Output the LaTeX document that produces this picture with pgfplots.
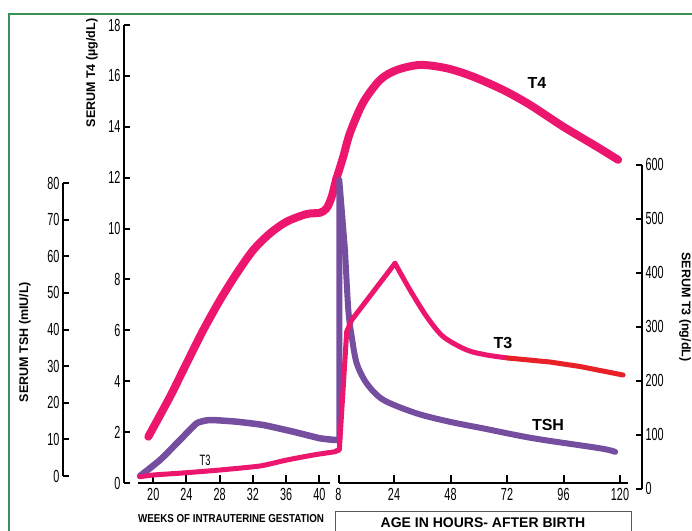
\documentclass[border=0pt]{standalone}
\usepackage{fontspec}
\setmainfont{Liberation Sans}
\newfontfamily\narrow[FakeStretch=0.62]{Liberation Sans}
\newfontfamily\narrowb[FakeStretch=0.85]{Liberation Sans}
\usepackage{pgfplots}
\pgfplotsset{compat=1.18}

\definecolor{pinkline}{RGB}{236,22,110}
\definecolor{purpleline}{RGB}{118,78,160}
\definecolor{redline}{RGB}{232,32,40}
\definecolor{framegreen}{RGB}{60,145,85}

% one px of the reference = 1pt
\pgfplotsset{
  every axis/.append style={scale only axis, anchor=south west},
  data/.style={hide axis, clip=false, height=458pt},
  pre/.style={data, at={(124pt,47pt)}, width=212pt, xmin=16.47, xmax=42.01},
  post/.style={data, at={(336pt,47pt)}, width=306pt, xmin=-0.64, xmax=129.35},
  rangeTfour/.style={ymin=0, ymax=18},
  rangeTthree/.style={ymin=10.19, ymax=858.97},
  rangeTSH/.style={ymin=-1.913, ymax=123.22},
  curve/.style={no markers, line join=round, line cap=round},
  ruler/.style={tick align=inside, major tick length=6pt,
    tick style={black, line width=2pt},
    axis line style={-, line width=1.6pt},
    every inner x axis line/.append style={-},
    every outer x axis line/.append style={-},
    every inner y axis line/.append style={-},
    every outer y axis line/.append style={-},
    ticklabel style={font=\narrow\fontsize{17.5}{17.5}\selectfont},
    /pgf/number format/assume math mode=true},
}

\begin{document}
\begin{tikzpicture}[x=1pt, y=1pt]

% ---- rulers ----
\begin{axis}[axis y line=left, hide x axis, ruler, at={(124pt,47pt)}, width=1pt,
  height=458pt, xmin=0, xmax=1, ymin=0, ymax=18, ytick={0,2,...,18}]
\end{axis}
\begin{axis}[axis y line=left, hide x axis, ruler, at={(63pt,54pt)}, width=1pt,
  height=293pt, xmin=0, xmax=1, ymin=0, ymax=80, ytick={0,10,...,80}]
\end{axis}
\begin{axis}[axis y line=right, hide x axis, ruler, at={(641pt,41.5pt)}, width=1pt,
  height=323.7pt, xmin=0, xmax=1, ymin=0, ymax=600, ytick={0,100,...,600}]
\end{axis}
\begin{axis}[axis x line=bottom, hide y axis, ruler, at={(138pt,47pt)}, width=192pt,
  height=10pt, ymin=0, ymax=1, xmin=18.16, xmax=41.29, xtick={20,24,...,40},
  major tick length=8pt, axis line style={line width=2.6pt},
  xticklabel style={yshift=-2pt}]
\end{axis}
\begin{axis}[axis x line=bottom, hide y axis, ruler, at={(338.5pt,47pt)}, width=289.5pt,
  height=10pt, ymin=0, ymax=1, xmin=0.42, xmax=123.4,
  xtick={0.42,24,48,72,96,120}, xticklabels={8,24,48,72,96,120},
  major tick length=8pt, xticklabel style={yshift=-2pt}]
\end{axis}

% ---- T4 (ug/dL) ----
\begin{axis}[pre, rangeTfour]
\addplot[curve, smooth, tension=0.5, pinkline, line width=8pt] coordinates {
 (19.40,1.82) (22.01,3.39) (24.02,4.71) (26.02,6.01) (28.04,7.19) (30.05,8.24)
 (32.05,9.16) (34.06,9.81) (36.07,10.27) (38.48,10.57) (40.08,10.62)
 (40.89,10.80) (41.49,11.25) (42.01,11.91)};
\end{axis}
\begin{axis}[post, rangeTfour]
\addplot[curve, smooth, tension=0.5, pinkline, line width=8pt] coordinates {
 (-0.64,11.91) (2.46,12.83) (5.31,13.76) (10.83,14.94) (18.05,15.84)
 (25.15,16.23) (35.05,16.43) (46.39,16.30) (57.56,15.97) (70.30,15.45)
 (81.77,14.86) (95.79,14.01) (110.1,13.22) (119.2,12.70)};
\end{axis}

% ---- TSH (mIU/L) ----
\begin{axis}[pre, rangeTSH]
\addplot[curve, smooth, tension=0.3, purpleline, line width=6.5pt] coordinates {
 (18.40,0) (20.81,4.37) (23.22,9.84) (25.23,14.4) (26.83,15.3) (30.05,14.84)
 (33.25,13.93) (36.87,12.10) (40.08,10.3) (41.89,9.84) (42.01,9.84)};
\end{axis}
\begin{axis}[post, rangeTSH]
\addplot[curve, purpleline, line width=6pt] coordinates {
 (-0.64,9.84) (0.76,9.84) (0.76,80.9) (3.18,61.7)};
\addplot[curve, smooth, tension=0.5, purpleline, line width=6pt] coordinates {
 (3.18,61.7) (4.59,45.4) (6.03,38.1) (8.15,30.8) (12.40,25.3) (19.45,20.8)
 (33.64,17.1) (47.79,14.8) (61.94,13.0) (83.18,10.3) (111.5,7.57) (117.9,6.6)};
\end{axis}

% ---- T3 (ng/dL) ----
\begin{axis}[pre, rangeTthree]
\addplot[curve, smooth, tension=0.3, pinkline, line width=5pt] coordinates {
 (18.41,21.9) (20.00,25.0) (24.02,29.3) (28.04,34.3) (32.86,41.7)
 (36.07,52.8) (39.28,62.1) (41.89,68.2) (42.01,69.5)};
\end{axis}
\begin{axis}[post, rangeTthree]
\addplot[curve, pinkline, line width=5pt] coordinates {
 (-0.64,69.5) (0.76,71.3) (3.90,290.6) (6.03,312.3) (24.42,417.3)};
\addplot[curve, smooth, tension=0.5, pinkline, line width=5pt] coordinates {
 (24.42,417.3) (30.8,367.9) (37.9,318.4) (44.94,281.3) (54.88,256.7)
 (63.38,247.4) (72.43,241.8)};
\addplot[curve, redline, line width=5pt] coordinates {
 (72.43,241.8) (90.27,234.4) (103.0,226.1) (121.3,210.3)};
\end{axis}

% ---- texts ----
\node[rotate=90, font=\bfseries\fontsize{12.5}{12.5}\selectfont] at (92,457) {SERUM T4 (µg/dL)};
\node[rotate=90, font=\bfseries\fontsize{12.5}{12.5}\selectfont] at (25,188) {SERUM TSH (mIU/L)};
\node[rotate=-90, font=\bfseries\fontsize{12.5}{12.5}\selectfont] at (685,223) {SERUM T3 (ng/dL)};

\node[font=\bfseries\fontsize{16}{16}\selectfont] at (537,447) {T4};
\node[font=\bfseries\fontsize{16}{16}\selectfont] at (503,187) {T3};
\node[font=\bfseries\fontsize{16}{16}\selectfont] at (548,105) {TSH};
\node[font=\narrow\fontsize{15}{15}\selectfont] at (205,70) {T3};

\node[font=\narrowb\bfseries\fontsize{11.5}{11.5}\selectfont] at (231,11) {WEEKS OF INTRAUTERINE GESTATION};
\draw[gray!70!black, line width=0.8pt] (335,-6) rectangle (631.7,18.3);
\node[font=\bfseries\fontsize{14}{14}\selectfont, inner sep=0pt, anchor=base] at (483,3) {AGE IN HOURS- AFTER BIRTH};

% green frame of the figure
\draw[framegreen, line width=2pt] (9,-5) -- (9,516) -- (700,516);

\pgfresetboundingbox
\path (0,0) rectangle (692,530);
\end{tikzpicture}
\end{document}
